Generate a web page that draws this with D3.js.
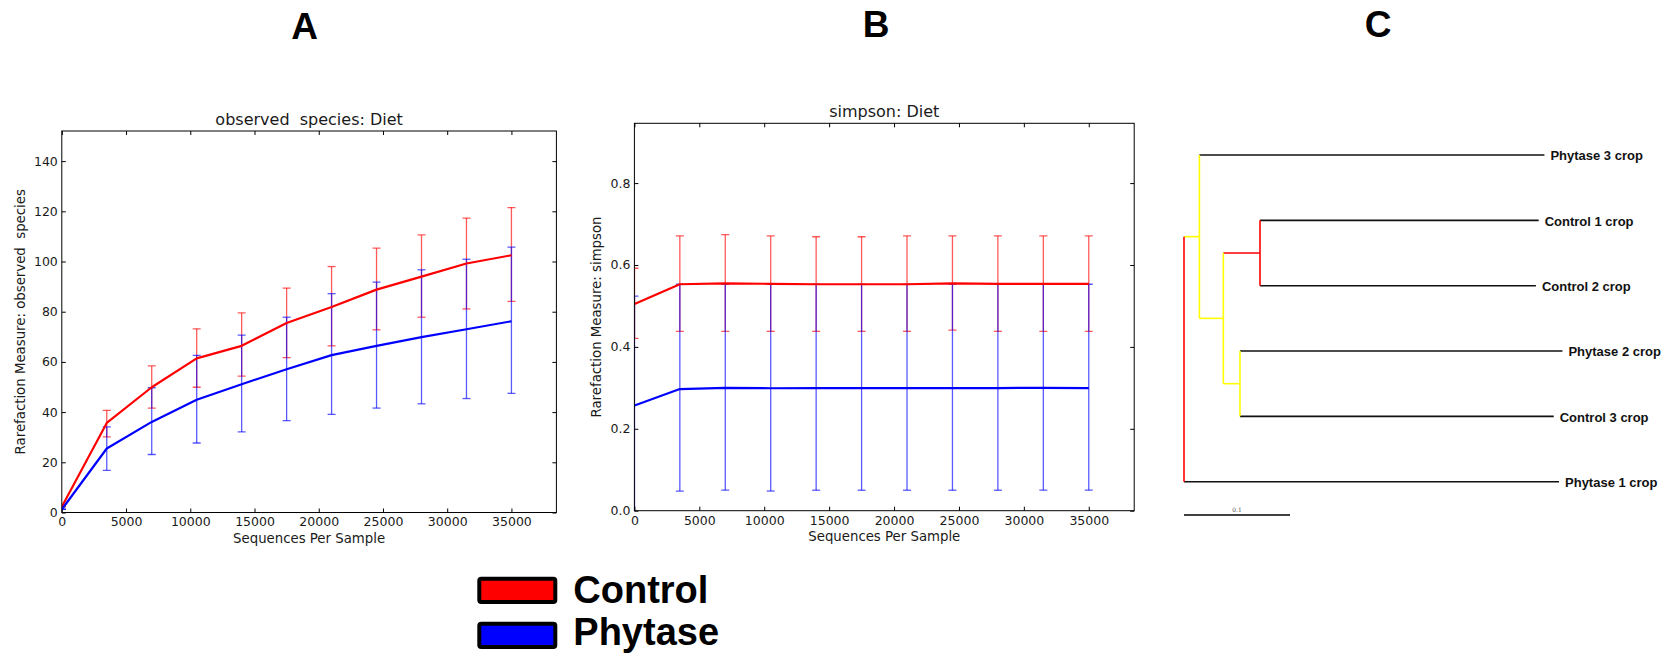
<!DOCTYPE html>
<html>
<head>
<meta charset="utf-8">
<script src="https://d3js.org/d3.v7.min.js"></script>
<style>
  body { margin: 0; background: #fff; }
  svg { display: block; }
</style>
</head>
<body>
<div id="chart-area"></div>
<script>
// Rarefaction (A, B) and UPGMA tree (C)

// depths used on the x axis of both rarefaction plots
var depths = [10, 3500, 7000, 10500, 14000, 17500, 21000, 24500, 28000, 31500, 35000]

// A: observed species
var obsControlMean  = [2.4, 35.7, 49.9, 61.4, 66.4, 75.5, 81.9, 88.8, 94.0, 99.2, 102.5]
var obsControlLow   = [2.4, 30.1, 41.6, 49.9, 54.3, 61.7, 66.4, 72.8, 77.8, 81.1, 84.1]
var obsControlHigh  = [2.4, 40.7, 58.4, 73.2, 79.5, 89.4, 98.0, 105.3, 110.6, 117.3, 121.5]
var obsPhytaseMean  = [1.3, 25.5, 36.1, 44.9, 51.1, 57.1, 62.7, 66.4, 69.9, 73.0, 76.2]
var obsPhytaseLow   = [1.3, 16.8, 23.1, 27.7, 32.1, 36.6, 39.1, 41.6, 43.3, 45.4, 47.5]
var obsPhytaseHigh  = [1.3, 34.1, 49.7, 62.6, 70.7, 77.8, 87.2, 91.8, 96.7, 100.9, 105.7]
var obsYTicks = [0, 20, 40, 60, 80, 100, 120, 140]

// B: simpson
var simControlMean  = [0.505, 0.553, 0.555, 0.554, 0.553, 0.553, 0.553, 0.555, 0.554, 0.554, 0.554]
var simControlLow   = [0.421, 0.438, 0.438, 0.438, 0.438, 0.438, 0.438, 0.441, 0.438, 0.438, 0.438]
var simControlHigh  = [0.592, 0.671, 0.674, 0.671, 0.669, 0.669, 0.671, 0.671, 0.671, 0.671, 0.671]
var simPhytaseMean  = [0.257, 0.297, 0.300, 0.299, 0.2995, 0.2995, 0.2995, 0.2995, 0.2995, 0.300, 0.2995]
var simPhytaseLow   = [-0.02, 0.048, 0.050, 0.048, 0.050, 0.050, 0.050, 0.050, 0.050, 0.050, 0.050]
var simPhytaseHigh  = [0.524, 0.553, 0.553, 0.553, 0.553, 0.553, 0.553, 0.553, 0.553, 0.553, 0.553]
var simYTicks = [0, 0.2, 0.4, 0.6, 0.8]

var xTicks = [0, 5000, 10000, 15000, 20000, 25000, 30000, 35000]

// legend
var groups = ["Control", "Phytase"]
var groupColors = ["#ff0000", "#0000ff"]

// C: tree (branch lengths)
var treeIds     = ["root", "n1", "Phytase 3 crop", "n2", "n3", "Control 1 crop", "Control 2 crop", "n4", "Phytase 2 crop", "Control 3 crop", "Phytase 1 crop"]
var treeParents = ["",     "root", "n1",           "n1", "n2", "n3",             "n3",             "n2", "n4",             "n4",             "root"]
var treeLengths = [0,      0.0145, 0.3255,         0.0226, 0.0346, 0.2629,       0.2603,           0.0157, 0.3042,         0.2960,           0.3538]
var treeColors  = ["#ff0000", "#ffff00", "#000", "#ffff00", "#ff0000", "#000", "#000", "#ffff00", "#000", "#000", "#000"]

var W = 1669, H = 655
var svg = d3.select('#chart-area').append('svg')
  .attr('width', W)
  .attr('height', H)
svg.append('rect').attr('width', W).attr('height', H).attr('fill', '#fff')

var txtColor = '#1a1a1a'
var mpl = 'DejaVu Sans, sans-serif'

//Panel letters
var letters = [["A", 304.5, 39], ["B", 876, 37], ["C", 1378, 37]]
svg.selectAll('text.panel')
  .data(letters)
  .enter()
  .append('text')
  .attr('class', 'panel')
  .attr('x', d => d[1])
  .attr('y', d => d[2])
  .attr('text-anchor', 'middle')
  .attr('font-family', 'Liberation Sans, Arial, sans-serif')
  .attr('font-weight', 'bold')
  .attr('font-size', '37px')
  .attr('fill', '#000')
  .text(d => d[0])

//function that draws one rarefaction plot
function drawRarefaction(box, cfg){
  var xScale = d3.scaleLinear().domain([0, 38500]).range([box.left, box.right])
  var yScale = d3.scaleLinear().domain([0, cfg.yMax]).range([box.bottom, box.top])

  var g = svg.append('g')

  // clip for the marks
  g.append('clipPath').attr('id', cfg.id + '-clip')
    .append('rect')
    .attr('x', box.left).attr('y', box.top)
    .attr('width', box.right - box.left).attr('height', box.bottom - box.top)

  // axes (ticks inside, all four sides)
  var bottomAxis = d3.axisBottom(xScale).tickValues(xTicks).tickSizeInner(-4).tickSizeOuter(0).tickPadding(5).tickFormat(d3.format('d'))
  var topAxis = d3.axisTop(xScale).tickValues(xTicks).tickSizeInner(-4).tickSizeOuter(0).tickFormat('')
  var leftAxis = d3.axisLeft(yScale).tickValues(cfg.yTicks).tickSizeInner(-4).tickSizeOuter(0).tickPadding(4).tickFormat(cfg.fmt)
  var rightAxis = d3.axisRight(yScale).tickValues(cfg.yTicks).tickSizeInner(-4).tickSizeOuter(0).tickFormat('')

  var axes = [
    [bottomAxis, 'translate(0,' + box.bottom + ')'],
    [topAxis, 'translate(0,' + box.top + ')'],
    [leftAxis, 'translate(' + box.left + ',0)'],
    [rightAxis, 'translate(' + box.right + ',0)']
  ]
  axes.forEach(function(a){
    var ag = g.append('g').attr('transform', a[1]).call(a[0])
    ag.select('.domain').remove()
    ag.selectAll('line').attr('stroke', '#000').attr('stroke-width', 1)
    ag.selectAll('text')
      .attr('font-family', mpl)
      .attr('font-size', '12.5px')
      .attr('fill', txtColor)
  })

  // error bars then mean lines
  var plot = g.append('g').attr('clip-path', 'url(#' + cfg.id + '-clip)')
  cfg.series.forEach(function(s){
    var pts = depths.map(function(x, i){
      return {x: x, m: s.mean[i], lo: s.low[i], hi: s.high[i]}
    })
    var eb = plot.append('g')
      .attr('stroke', s.color)
      .attr('stroke-opacity', 0.65)
      .attr('stroke-width', 1.3)
    eb.selectAll('line.v').data(pts).enter().append('line')
      .attr('x1', d => xScale(d.x)).attr('x2', d => xScale(d.x))
      .attr('y1', d => yScale(d.lo)).attr('y2', d => yScale(d.hi))
    eb.selectAll('line.hi').data(pts).enter().append('line')
      .attr('x1', d => xScale(d.x) - 4).attr('x2', d => xScale(d.x) + 4)
      .attr('y1', d => yScale(d.hi)).attr('y2', d => yScale(d.hi))
    eb.selectAll('line.lo').data(pts).enter().append('line')
      .attr('x1', d => xScale(d.x) - 4).attr('x2', d => xScale(d.x) + 4)
      .attr('y1', d => yScale(d.lo)).attr('y2', d => yScale(d.lo))
  })
  cfg.series.forEach(function(s){
    var line = d3.line()
      .x(function(d, i){ return xScale(depths[i]) })
      .y(function(d){ return yScale(d) })
    plot.append('path')
      .datum(s.mean)
      .attr('d', line)
      .attr('fill', 'none')
      .attr('stroke', s.color)
      .attr('stroke-width', 2.2)
      .attr('stroke-linejoin', 'round')
  })

  // frame
  g.append('rect')
    .attr('x', box.left).attr('y', box.top)
    .attr('width', box.right - box.left).attr('height', box.bottom - box.top)
    .attr('fill', 'none').attr('stroke', '#000').attr('stroke-width', 1)

  var cx = (box.left + box.right) / 2
  // title
  g.append('text')
    .attr('x', cx).attr('y', box.top - 6.5)
    .attr('text-anchor', 'middle')
    .attr('font-family', mpl).attr('font-size', '16px')
    .attr('fill', txtColor)
    .style('white-space', 'pre')
    .text(cfg.title)
  // x label
  g.append('text')
    .attr('x', cx).attr('y', box.bottom + 30.5)
    .attr('text-anchor', 'middle')
    .attr('font-family', mpl).attr('font-size', '13.3px')
    .attr('fill', txtColor)
    .text('Sequences Per Sample')
  // y label
  g.append('text')
    .attr('transform', 'translate(' + cfg.yLabelX + ',' + (box.top + box.bottom) / 2 + ') rotate(-90)')
    .attr('dy', '0.35em')
    .attr('text-anchor', 'middle')
    .attr('font-family', mpl).attr('font-size', '13.3px')
    .attr('fill', txtColor)
    .style('white-space', 'pre')
    .text(cfg.yLabel)
}

drawRarefaction({left: 61.8, right: 556.4, top: 131, bottom: 512.5}, {
  id: 'obs', yMax: 152, yTicks: obsYTicks, fmt: d3.format('d'),
  title: 'observed  species: Diet', yLabel: 'Rarefaction Measure: observed  species', yLabelX: 20.4,
  series: [
    {color: groupColors[0], mean: obsControlMean, low: obsControlLow, high: obsControlHigh},
    {color: groupColors[1], mean: obsPhytaseMean, low: obsPhytaseLow, high: obsPhytaseHigh}
  ]
})

drawRarefaction({left: 634.4, right: 1134.2, top: 123.3, bottom: 510.7}, {
  id: 'sim', yMax: 0.946, yTicks: simYTicks, fmt: d3.format('.1f'),
  title: 'simpson: Diet', yLabel: 'Rarefaction Measure: simpson', yLabelX: 596,
  series: [
    {color: groupColors[0], mean: simControlMean, low: simControlLow, high: simControlHigh},
    {color: groupColors[1], mean: simPhytaseMean, low: simPhytaseLow, high: simPhytaseHigh}
  ]
})

//Legend
var legend = svg.append('g')
legend.selectAll('rect')
  .data(groups)
  .enter()
  .append('rect')
  .attr('x', 479.3)
  .attr('y', function(d, i){ return 578.7 + i * 45 })
  .attr('width', 76)
  .attr('height', 23.3)
  .attr('rx', 2)
  .attr('fill', function(d, i){ return groupColors[i] })
  .attr('stroke', '#000')
  .attr('stroke-width', 4)
legend.selectAll('text')
  .data(groups)
  .enter()
  .append('text')
  .attr('x', 573.3)
  .attr('y', function(d, i){ return 602.7 + i * 42.5 })
  .attr('font-family', 'Liberation Sans, Arial, sans-serif')
  .attr('font-weight', 'bold')
  .attr('font-size', '38px')
  .attr('fill', '#000')
  .text(d => d)

//Tree (C)
var root = d3.stratify()
  .id(function(d){ return d.id })
  .parentId(function(d){ return d.parent || null })(
    treeIds.map(function(id, i){
      return {id: id, parent: treeParents[i], len: treeLengths[i], color: treeColors[i]}
    })
  )

root.eachBefore(function(n){
  n.dist = (n.parent ? n.parent.dist : 0) + n.data.len
})

var leafNames = root.leaves().map(function(d){ return d.id })
var treeX = d3.scaleLinear().domain([0, 0.1]).range([1184, 1290])
var treeY = d3.scalePoint().domain(leafNames).range([155, 481.7])

root.eachAfter(function(n){
  if (n.children) n.y = d3.mean(n.children, function(c){ return c.y })
  else n.y = treeY(n.id)
})

var tree = svg.append('g')
  .attr('fill', 'none')
  .attr('stroke-width', 1.6)

// horizontal branch for each non-root node
tree.selectAll('line.h')
  .data(root.descendants().filter(function(d){ return d.parent }))
  .enter()
  .append('line')
  .attr('x1', d => treeX(d.parent.dist))
  .attr('x2', d => treeX(d.dist))
  .attr('y1', d => d.y)
  .attr('y2', d => d.y)
  .attr('stroke', d => d.data.color == '#000' ? '#111' : d.data.color)

// vertical connector for each internal node
tree.selectAll('line.v')
  .data(root.descendants().filter(function(d){ return d.children }))
  .enter()
  .append('line')
  .attr('x1', d => treeX(d.dist))
  .attr('x2', d => treeX(d.dist))
  .attr('y1', d => d3.min(d.children, c => c.y))
  .attr('y2', d => d3.max(d.children, c => c.y))
  .attr('stroke', d => d.data.color)

// leaf labels
svg.selectAll('text.leaf')
  .data(root.leaves())
  .enter()
  .append('text')
  .attr('class', 'leaf')
  .attr('x', d => treeX(d.dist) + 6)
  .attr('y', d => d.y)
  .attr('dy', '0.4em')
  .attr('font-family', 'Liberation Sans, Arial, sans-serif')
  .attr('font-weight', 'bold')
  .attr('font-size', '13px')
  .attr('fill', '#111')
  .text(d => d.id)

// scale bar
svg.append('line')
  .attr('x1', treeX(0)).attr('x2', treeX(0.1))
  .attr('y1', 515).attr('y2', 515)
  .attr('stroke', '#000').attr('stroke-width', 1.6)
svg.append('text')
  .attr('x', treeX(0.05)).attr('y', 511.5)
  .attr('text-anchor', 'middle')
  .attr('font-family', 'DejaVu Serif, serif')
  .attr('font-size', '6px')
  .attr('fill', '#555')
  .text('0.1')
</script>
</body>
</html>
